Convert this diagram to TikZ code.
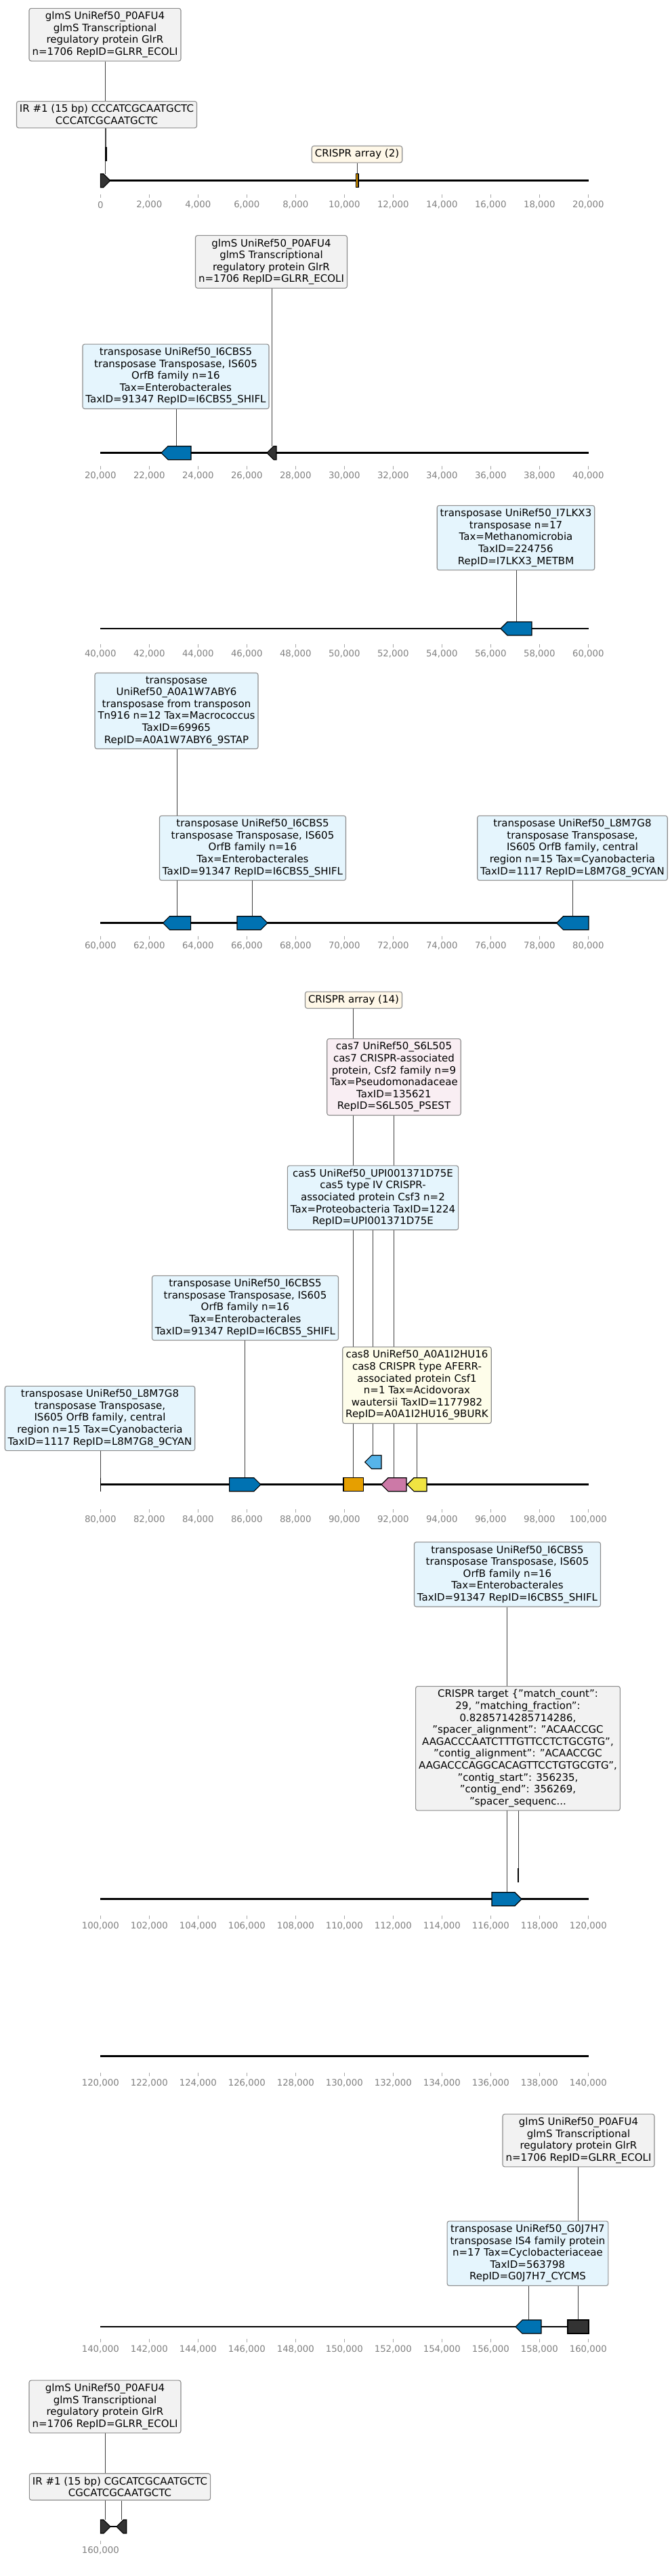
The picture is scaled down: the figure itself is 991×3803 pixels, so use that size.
\documentclass[tikz,border=0pt]{standalone}
\usepackage{fontspec}
\setmainfont{DejaVu Sans}
\usetikzlibrary{backgrounds}
\definecolor{boxgray}{HTML}{F2F2F2}
\definecolor{boxblue}{HTML}{E5F5FD}
\definecolor{boxcream}{HTML}{FFF8E8}
\definecolor{boxpink}{HTML}{F9EEF3}
\definecolor{boxyellow}{HTML}{FEFDEA}
\definecolor{boxedge}{HTML}{8C8C8C}
\definecolor{genedark}{HTML}{333333}
\definecolor{geneblue}{HTML}{0072B2}
\definecolor{genesky}{HTML}{56B4E9}
\definecolor{geneorange}{HTML}{E69F00}
\definecolor{genepink}{HTML}{CC79A7}
\definecolor{geneyellow}{HTML}{F0E442}
% gene shapes: name, start x, end x, centre y, colour
\newcommand{\fwdgene}[5]{%
  \draw[gene, fill=#5] (#2,#4-10) -- ({max(#2,#3-10)},#4-10) -- (#3,#4) -- ({max(#2,#3-10)},#4+10) -- (#2,#4+10) -- cycle;
  \coordinate (#1) at ({(#2+#3)/2},#4-10);}
\newcommand{\revgene}[5]{%
  \draw[gene, fill=#5] (#3,#4-10) -- ({min(#3,#2+10)},#4-10) -- (#2,#4) -- ({min(#3,#2+10)},#4+10) -- (#3,#4+10) -- cycle;
  \coordinate (#1) at ({(#2+#3)/2},#4-10);}
\newcommand{\blockgene}[5]{%
  \draw[gene, fill=#5] (#2,#4-10) rectangle (#3,#4+10);
  \coordinate (#1) at ({(#2+#3)/2},#4-10);}
% ruler: name, tick y, first label (thousands), intervals
\newcommand{\ruler}[4]{%
  \foreach \i in {0,...,#4} {
    \edef\kb{\the\numexpr#3+2*\i\relax}
    \draw[tick] (148.3+72*\i,#2) -- ++(0,5);
    \node[ticklabel] (#1-\i) at (148.3+72*\i,#2+15) {\ifnum\kb=0 0\else\kb,000\fi};
  }}
\begin{document}
\begin{tikzpicture}[
    x=1pt, y=-1pt,
    note/.style={draw=boxedge, rounded corners=3pt, line width=1.1pt, inner xsep=4.5pt, inner ysep=5pt, align=center, font=\fontsize{15}{17.6}\selectfont},
    graynote/.style={note, fill=boxgray},
    bluenote/.style={note, fill=boxblue},
    creamnote/.style={note, fill=boxcream},
    pinknote/.style={note, fill=boxpink},
    yellownote/.style={note, fill=boxyellow},
    gene/.style={draw=black, line width=1.1pt, line join=miter},
    axisline/.style={line width=2.6pt},
    leader/.style={black!75, line width=0.9pt},
    tick/.style={gray!70, line width=0.8pt},
    ticklabel/.style={text=gray, font=\fontsize{13.3}{16}\selectfont, inner sep=0pt}
]
\useasboundingbox (0,0) rectangle (991,3803);

% 0 - 20,000
\node[graynote] (glmsA) at (155, 51.2) {glmS UniRef50\_P0AFU4\\glmS Transcriptional\\regulatory protein GlrR\\n=1706 RepID=GLRR\_ECOLI};
\node[graynote] (irA) at (157.5, 169.2) {IR \#1 (15 bp) CCCATCGCAATGCTC\\CCCATCGCAATGCTC};
\node[creamnote] (crA) at (527, 227.8) {CRISPR array (2)};
\draw[axisline] (148.3,266.7) -- (869,266.7);
\fwdgene{gA}{148.3}{162.7}{266.7}{genedark}
\blockgene{irbar}{156}{157.4}{227.2}{black}
\blockgene{crbarA}{525.5}{529}{266.7}{geneorange}
\ruler{rA}{287.3}{0}{10}
\begin{scope}[on background layer]
\draw[leader] (glmsA.south -| gA) -- (gA);
\draw[leader] (irA.south -| irbar) -- (irbar);
\draw[leader] (crA.south -| crbarA) -- (crbarA);
\end{scope}

% 20,000 - 40,000
\node[graynote] (glmsB) at (400.5, 386.5) {glmS UniRef50\_P0AFU4\\glmS Transcriptional\\regulatory protein GlrR\\n=1706 RepID=GLRR\_ECOLI};
\node[bluenote] (tnpB) at (259.5, 555.8) {transposase UniRef50\_I6CBS5\\transposase Transposase, IS605\\OrfB family n=16\\Tax=Enterobacterales\\TaxID=91347 RepID=I6CBS5\_SHIFL};
\draw[axisline] (148.3,668.7) -- (869,668.7);
\revgene{tB}{238}{282}{668.7}{geneblue}
\revgene{gB}{394}{408}{668.7}{genedark}
\ruler{rB}{687.5}{20}{10}
\begin{scope}[on background layer]
\draw[leader] (glmsB.south -| gB) -- (gB);
\draw[leader] (tnpB.south -| tB) -- (tB);
\end{scope}

% 40,000 - 60,000
\node[bluenote] (tnpC) at (761.5, 794) {transposase UniRef50\_I7LKX3\\transposase n=17\\Tax=Methanomicrobia\\TaxID=224756\\RepID=I7LKX3\_METBM};
\draw[axisline] (148.3,928) -- (869,928);
\revgene{tC}{739}{785}{928}{geneblue}
\ruler{rC}{950.7}{40}{10}
\begin{scope}[on background layer]
\draw[leader] (tnpC.south -| tC) -- (tC);
\end{scope}

% 60,000 - 80,000
\node[bluenote] (tnpD) at (260.5, 1049.5) {transposase\\UniRef50\_A0A1W7ABY6\\transposase from transposon\\Tn916 n=12 Tax=Macrococcus\\TaxID=69965\\RepID=A0A1W7ABY6\_9STAP};
\node[bluenote] (tnpE) at (373, 1252) {transposase UniRef50\_I6CBS5\\transposase Transposase, IS605\\OrfB family n=16\\Tax=Enterobacterales\\TaxID=91347 RepID=I6CBS5\_SHIFL};
\node[bluenote] (tnpF) at (845, 1252) {transposase UniRef50\_L8M7G8\\transposase Transposase,\\IS605 OrfB family, central\\region n=15 Tax=Cyanobacteria\\TaxID=1117 RepID=L8M7G8\_9CYAN};
\draw[axisline] (148.3,1362.7) -- (869,1362.7);
\revgene{tD}{240.5}{281.6}{1362.7}{geneblue}
\fwdgene{tE}{350}{395}{1362.7}{geneblue}
\revgene{tF}{821.5}{869}{1362.7}{geneblue}
\ruler{rD}{1381.7}{60}{10}
\begin{scope}[on background layer]
\draw[leader] (tnpD.south -| tD) -- (tD);
\draw[leader] (tnpE.south -| tE) -- (tE);
\draw[leader] (tnpF.south -| tF) -- (tF);
\end{scope}

% 80,000 - 100,000
\node[creamnote] (crB) at (522, 1476.3) {CRISPR array (14)};
\node[pinknote] (cas7) at (581.5, 1590) {cas7 UniRef50\_S6L505\\cas7 CRISPR-associated\\protein, Csf2 family n=9\\Tax=Pseudomonadaceae\\TaxID=135621\\RepID=S6L505\_PSEST};
\node[bluenote] (cas5) at (550.5, 1768.3) {cas5 UniRef50\_UPI001371D75E\\cas5 type IV CRISPR-\\associated protein Csf3 n=2\\Tax=Proteobacteria TaxID=1224\\RepID=UPI001371D75E};
\node[bluenote] (tnpG) at (362, 1931) {transposase UniRef50\_I6CBS5\\transposase Transposase, IS605\\OrfB family n=16\\Tax=Enterobacterales\\TaxID=91347 RepID=I6CBS5\_SHIFL};
\node[yellownote] (cas8) at (615.5, 2045) {cas8 UniRef50\_A0A1I2HU16\\cas8 CRISPR type AFERR-\\associated protein Csf1\\n=1 Tax=Acidovorax\\wautersii TaxID=1177982\\RepID=A0A1I2HU16\_9BURK};
\node[bluenote] (tnpH) at (147.5, 2094) {transposase UniRef50\_L8M7G8\\transposase Transposase,\\IS605 OrfB family, central\\region n=15 Tax=Cyanobacteria\\TaxID=1117 RepID=L8M7G8\_9CYAN};
\draw[axisline] (148.3,2191.7) -- (869,2191.7);
\draw[gene] (148.3,2181.7) -- (148.3,2201.7);
\coordinate (tH) at (148.3,2181.7);
\fwdgene{tG}{338.6}{384.8}{2191.7}{geneblue}
\blockgene{crbarB}{507}{536.7}{2191.7}{geneorange}
\revgene{c7}{563}{600}{2191.7}{genepink}
\revgene{c8}{601}{630}{2191.7}{geneyellow}
\revgene{c5}{538.6}{563}{2158.5}{genesky}
\ruler{rE}{2228}{80}{10}
\begin{scope}[on background layer]
\draw[leader] (crB.south -| crbarB) -- (crbarB);
\draw[leader] (cas7.south -| c7) -- (c7);
\draw[leader] (cas5.south -| c5) -- (c5);
\draw[leader] (cas8.south -| c8) -- (c8);
\draw[leader] (tnpG.south -| tG) -- (tG);
\draw[leader] (tnpH.south -| tH) -- (148.3,2201.7);
\end{scope}

% 100,000 - 120,000
\node[bluenote] (tnpI) at (749, 2324.3) {transposase UniRef50\_I6CBS5\\transposase Transposase, IS605\\OrfB family n=16\\Tax=Enterobacterales\\TaxID=91347 RepID=I6CBS5\_SHIFL};
\node[graynote] (tgt) at (764.5, 2581.2) {CRISPR target \{"match\_count":\\29, "matching\_fraction":\\0.8285714285714286,\\"spacer\_alignment": "ACAACCGC\\AAGACCCAATCTTTGTTCCTCTGCGTG",\\"contig\_alignment": "ACAACCGC\\AAGACCCAGGCACAGTTCCTGTGCGTG",\\"contig\_start": 356235,\\"contig\_end": 356269,\\"spacer\_sequenc...};
\draw[axisline] (148.3,2803.7) -- (869,2803.7);
\fwdgene{tI}{726}{770}{2803.7}{geneblue}
\blockgene{tgtbar}{764.3}{765.7}{2768.5}{black}
\ruler{rF}{2828.3}{100}{10}
\begin{scope}[on background layer]
\draw[leader] (tnpI.south -| tI) -- (tI);
\draw[leader] (tgt.south -| tgtbar) -- (tgtbar);
\end{scope}

% 120,000 - 140,000
\draw[axisline] (148.3,3035.7) -- (869,3035.7);
\ruler{rG}{3060}{120}{10}

% 140,000 - 160,000
\node[graynote] (glmsC) at (854, 3160) {glmS UniRef50\_P0AFU4\\glmS Transcriptional\\regulatory protein GlrR\\n=1706 RepID=GLRR\_ECOLI};
\node[bluenote] (tnpJ) at (779, 3326.7) {transposase UniRef50\_G0J7H7\\transposase IS4 family protein\\n=17 Tax=Cyclobacteriaceae\\TaxID=563798\\RepID=G0J7H7\_CYCMS};
\draw[axisline] (148.3,3435) -- (869,3435);
\revgene{tJ}{761}{799}{3435}{geneblue}
\blockgene{gC}{838}{869}{3435}{genedark}
\ruler{rH}{3453}{140}{10}
\begin{scope}[on background layer]
\draw[leader] (glmsC.south -| gC) -- (gC);
\draw[leader] (tnpJ.south -| tJ) -- (tJ);
\end{scope}

% 160,000 -
\node[graynote] (glmsD) at (155, 3553) {glmS UniRef50\_P0AFU4\\glmS Transcriptional\\regulatory protein GlrR\\n=1706 RepID=GLRR\_ECOLI};
\node[graynote] (irB) at (177, 3671.3) {IR \#1 (15 bp) CGCATCGCAATGCTC\\CGCATCGCAATGCTC};
\draw[axisline] (148.3,3730) -- (186.7,3730);
\fwdgene{gD}{148.3}{163}{3730}{genedark}
\revgene{irD}{172}{186.7}{3730}{genedark}
\ruler{rI}{3750.7}{160}{0}
\begin{scope}[on background layer]
\draw[leader] (glmsD.south -| gD) -- (gD);
\draw[leader] (irB.south -| irD) -- (irD);
\end{scope}
\end{tikzpicture}
\end{document}
